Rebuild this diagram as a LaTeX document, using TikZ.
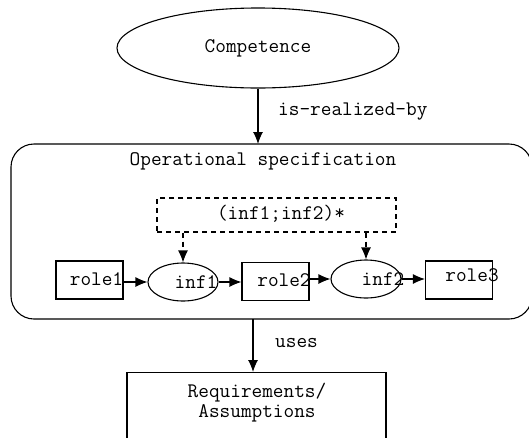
\documentclass[tikz,border=0pt]{standalone}
\usetikzlibrary{arrows.meta,shapes.geometric}
\begin{document}
\begin{tikzpicture}[x=1pt,y=-1pt,
  every node/.style={font=\fontsize{20.7}{20}\selectfont\ttfamily, inner sep=0pt},
  line/.style={line width=1.1pt},
  arr/.style={line, -{Latex[length=12pt,width=10pt]}},
  darr/.style={arr, dash pattern=on 5pt off 4pt},
  rolebox/.style={draw, line width=1.1pt, minimum width=67pt, minimum height=38pt},
  infoval/.style={draw, ellipse, line width=1.1pt, minimum width=70pt, minimum height=38pt},
  lbl/.style={anchor=west}]
\useasboundingbox (0,0) rectangle (529,437);
\clip (0,0) rectangle (529,437);

% top-level competence
\node[draw, ellipse, line width=1.1pt, minimum width=282pt, minimum height=80pt]
  (comp) at (258,48) {Competence};

% operational specification container
\draw[line, rounded corners=23pt] (11,144) rectangle (532,319);
\coordinate (optop) at (258,144);
\coordinate (opbot) at (253,319);
\node (optitle) at (263,161) {Operational specification};

% loop annotation
\node[draw, line width=1.1pt, dash pattern=on 5pt off 4pt,
  minimum width=239pt, minimum height=34pt] (loop) at (276.5,215) {};
\node (looptxt) at (281,214) {(inf1;inf2)*};

% roles and inferences
\node[rolebox, label={[xshift=7pt,yshift=1pt]center:role1}] (r1) at (89.5,280) {};
\node[infoval, label={[xshift=13pt]center:inf1}] (i1) at (183,282) {};
\node[rolebox, label={[xshift=8.5pt,yshift=1pt]center:role2}] (r2) at (275.5,281.5) {};
\node[infoval, label={[xshift=17pt]center:inf2}] (i2) at (366,279) {};
\node[rolebox, label={[xshift=13pt,yshift=5pt]center:role3}] (r3) at (459,280) {};

\draw[arr] (r1.east |- 0,282) -- (i1.west);
\draw[arr] (i1.east) -- (r2.west |- 0,282);
\draw[arr] (r2.east |- 0,279) -- (i2.west);
\draw[arr] (i2.east) -- (r3.west |- 0,279);

\draw[darr] (loop.south -| i1.north) -- (i1.north);
\draw[darr] (loop.south -| i2.north) -- (i2.north);

% requirements / assumptions
\node[draw, line width=1.1pt, minimum width=259pt, minimum height=110pt,
  anchor=north] (req) at (256.5,372) {};
\node[align=center] (reqtxt) at (257,403) {Requirements/\\Assumptions};

% connecting relations
\draw[arr] (comp.south) -- (optop);
\node[lbl] (realized) at (278,112) {is-realized-by};
\draw[arr] (opbot) -- (req.north -| opbot);
\node[lbl] (uses) at (275,343) {uses};
\end{tikzpicture}
\end{document}
